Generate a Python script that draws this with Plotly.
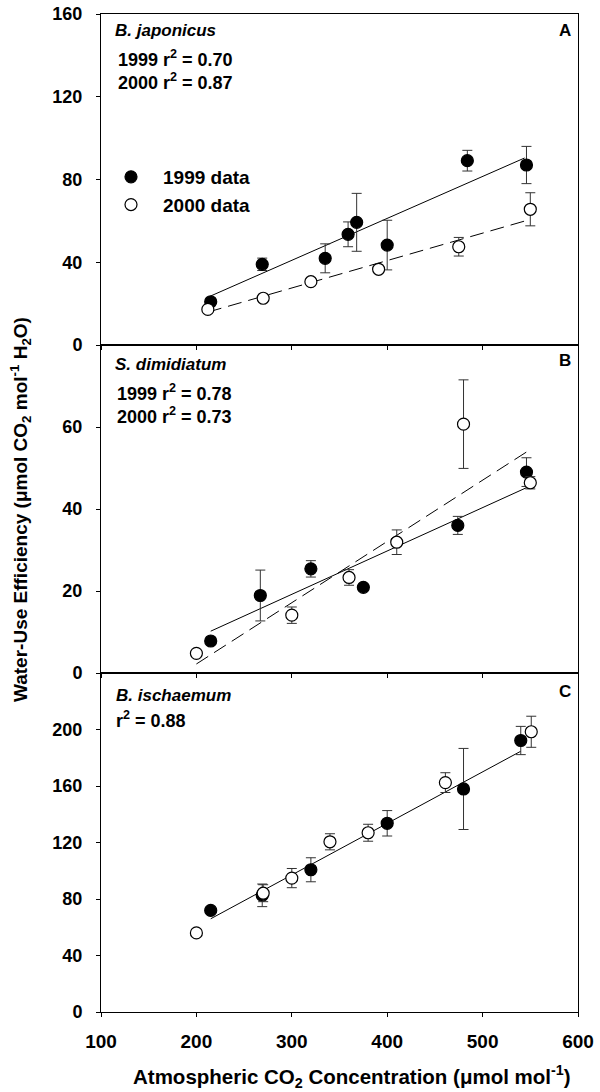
import plotly.graph_objects as go
from plotly.subplots import make_subplots

# ---------------- data ----------------
# Panel A: B. japonicus
a99_x = [215, 269, 335, 359, 368, 400, 484, 546]
a99_y = [20.9, 39.0, 41.9, 53.5, 59.3, 48.3, 89.1, 87.0]
a99_e = [1.5, 3.0, 7.0, 6.0, 14.0, 12.0, 5.0, 9.0]
a00_x = [212, 270, 320, 391, 475, 550]
a00_y = [17.2, 22.6, 30.6, 36.6, 47.5, 65.6]
a00_e = [0.8, 0.8, 1.2, 0.8, 4.5, 8.0]
a99_fit_x = [215, 544]
a99_fit_y = [23.7, 90.4]
a00_fit_x = [212, 550]
a00_fit_y = [15.9, 60.7]

# Panel B: S. dimidiatum
b99_x = [215, 267, 320, 375, 474, 546]
b99_y = [7.8, 18.9, 25.4, 20.9, 36.0, 49.0]
b99_e = [0.5, 6.2, 2.0, 0.8, 2.2, 3.5]
b00_x = [200, 300, 360, 410, 480, 550]
b00_y = [4.8, 14.1, 23.3, 31.9, 60.7, 46.4]
b00_e = [0.4, 2.0, 1.9, 3.0, 10.8, 1.5]
b99_fit_x = [215, 546]
b99_fit_y = [10.2, 45.2]
b00_fit_x = [200, 548]
b00_fit_y = [2.2, 54.2]

# Panel C: B. ischaemum
c99_x = [215, 269, 320, 400, 480, 540]
c99_y = [71.9, 82.6, 100.7, 133.6, 157.9, 192.2]
c99_e = [1.5, 8.0, 8.5, 9.0, 28.7, 10.0]
c00_x = [200, 270, 300, 340, 380, 461, 551]
c00_y = [56.0, 84.1, 94.8, 120.5, 126.9, 162.4, 198.4]
c00_e = [2.0, 6.0, 6.8, 5.7, 6.0, 7.0, 11.0]
c_fit_x = [215, 540]
c_fit_y = [66.0, 184.6]

x_ticks = [100, 200, 300, 400, 500, 600]
a_ticks = [0, 40, 80, 120, 160]
b_ticks = [0, 20, 40, 60]
c_ticks = [0, 40, 80, 120, 160, 200]

# ---------------- geometry (page pixels) ----------------
W, H = 600, 1092
L, R, T, B = 101, 22, 14, 80
PW, PH = W - L - R, H - T - B


def px_x(px):
    return (px - L) / PW


def px_y(py):
    return (H - B - py) / PH


fig = make_subplots(rows=3, cols=1, shared_xaxes=False, vertical_spacing=0)

FONT = "Liberation Sans, Arial, Helvetica, sans-serif"
BLACK = "black"


def add_points(x, y, e, filled, row, name=None, show=False):
    fig.add_trace(go.Scatter(
        x=x, y=y, mode="markers",
        marker=dict(size=12, symbol="circle",
                    color=BLACK if filled else "white",
                    line=dict(color=BLACK, width=1.2)),
        error_y=dict(type="data", array=e, visible=True, color="#333333",
                     thickness=1, width=5),
        name=name, showlegend=show, cliponaxis=False,
    ), row=row, col=1)


def add_fit(x, y, dashed, row):
    fig.add_trace(go.Scatter(
        x=x, y=y, mode="lines",
        line=dict(color=BLACK, width=1, dash="14px,7px" if dashed else "solid"),
        showlegend=False, hoverinfo="skip",
    ), row=row, col=1)


# A
add_fit(a99_fit_x, a99_fit_y, False, 1)
add_fit(a00_fit_x, a00_fit_y, True, 1)
add_points(a99_x, a99_y, a99_e, True, 1, "<b>1999 data</b>", True)
add_points(a00_x, a00_y, a00_e, False, 1, "<b>2000 data</b>", True)
# B
add_fit(b99_fit_x, b99_fit_y, False, 2)
add_fit(b00_fit_x, b00_fit_y, True, 2)
add_points(b99_x, b99_y, b99_e, True, 2)
add_points(b00_x, b00_y, b00_e, False, 2)
# C
add_fit(c_fit_x, c_fit_y, False, 3)
add_points(c99_x, c99_y, c99_e, True, 3)
add_points(c00_x, c00_y, c00_e, False, 3)

dA = [px_y(345), 1.0]
dB = [px_y(673), px_y(345)]
dC = [0.0, px_y(673)]


def axis_common(size):
    return dict(showline=True, linecolor=BLACK, linewidth=1, mirror=True,
                ticks="outside", ticklen=4, tickcolor=BLACK, showgrid=False,
                zeroline=False, automargin=False, ticklabeloverflow="allow",
                tickfont=dict(family=FONT, size=size, color=BLACK, weight="bold"))


for i in (1, 2, 3):
    fig.update_xaxes(range=[100, 600], tickvals=x_ticks,
                     showticklabels=(i == 3), row=i, col=1, **axis_common(19))

fig.update_xaxes(ticklabelstandoff=8, row=3, col=1)

for row, rng, tv, dom in ((1, [0, 160], a_ticks, dA),
                          (2, [0, 80], b_ticks, dB),
                          (3, [0, 240], c_ticks, dC)):
    fig.update_yaxes(range=rng, tickvals=tv, domain=dom, row=row, col=1,
                     ticklabelstandoff=10, **axis_common(18))

ann = []


def txt(text, px, py, italic=False, anchor="left", size=17, angle=0):
    t = "<b>" + (f"<i>{text}</i>" if italic else text) + "</b>"
    ann.append(dict(text=t, x=px_x(px), y=px_y(py), xref="paper", yref="paper",
                    xanchor=anchor, yanchor="middle", showarrow=False, textangle=angle,
                    font=dict(family=FONT, size=size, color=BLACK)))


txt("B. japonicus", 113, 31, italic=True, size=17)
txt("1999 r<sup>2</sup> = 0.70", 116, 58, size=18)
txt("2000 r<sup>2</sup> = 0.87", 116, 81, size=18)
txt("A", 573, 30, anchor="right", size=17)

txt("S. dimidiatum", 113, 365, italic=True, size=17)
txt("1999 r<sup>2</sup> = 0.78", 115, 392, size=18)
txt("2000 r<sup>2</sup> = 0.73", 115, 416, size=18)
txt("B", 573, 360, anchor="right", size=17)

txt("B. ischaemum", 114, 695, italic=True, size=17)
txt("r<sup>2</sup> = 0.88", 114, 720, size=18)
txt("C", 573, 691, anchor="right", size=17)

# axis titles
txt("Water-Use Efficiency (\u03bcmol CO<sub>2</sub> mol<sup>-1</sup> H<sub>2</sub>O)",
    20, 510, anchor="center", size=19, angle=-90)
txt("Atmospheric CO<sub>2</sub> Concentration (\u03bcmol mol<sup>-1</sup>)",
    352, 1076, anchor="center", size=20.5)

fig.update_layout(
    width=W, height=H,
    margin=dict(l=L, r=R, t=T, b=B),
    paper_bgcolor="white", plot_bgcolor="white",
    annotations=ann,
    showlegend=True,
    legend=dict(x=px_x(99), y=px_y(158), xanchor="left", yanchor="top",
                bgcolor="rgba(0,0,0,0)", borderwidth=0,
                font=dict(family=FONT, size=19, color=BLACK),
                itemwidth=54, tracegroupgap=0),
)

fig.write_html("out.html",
               config={"displayModeBar": False},
               post_script="document.body.style.margin='0';document.body.style.overflow='hidden';")
